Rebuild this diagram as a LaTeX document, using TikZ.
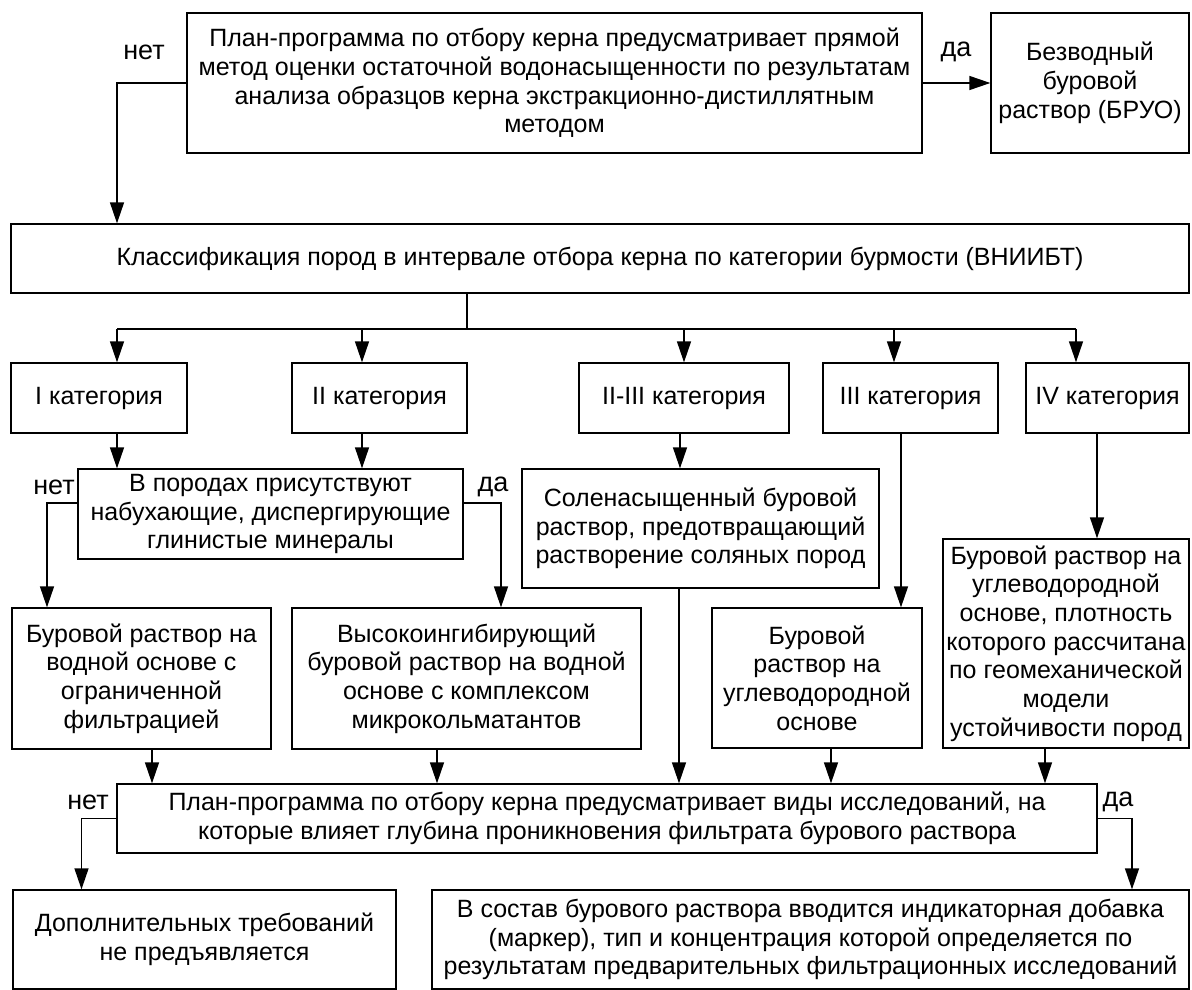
\documentclass[tikz,border=0pt]{standalone}
\usepackage{fontspec}
\setmainfont{Liberation Sans}
\usetikzlibrary{arrows.meta}
\begin{document}
\begin{tikzpicture}[x=1pt,y=-1pt,
  box/.style={draw, line width=1.3pt, inner sep=0pt, align=center, font=\fontsize{25}{28.7}\selectfont},
  lbl/.style={font=\fontsize{27}{30}\selectfont, inner sep=0pt},
  arr/.style={line width=1.3pt, -{Triangle[length=21pt,width=14pt]}},
  ln/.style={line width=1.3pt}]
\useasboundingbox (0,0) rectangle (1192,990);
% helper x/y coordinates
\coordinate (xA) at (117,0);
\coordinate (xB) at (467,0);
\coordinate (xII) at (362,0);
\coordinate (xIIIa) at (684,0);
\coordinate (xIIIb) at (680,0);
\coordinate (xIIIc) at (894,0);
\coordinate (xIIId) at (901,0);
\coordinate (xIVa) at (1076,0);
\coordinate (xIVb) at (1097,0);
\coordinate (br) at (0,329);
\coordinate (yc) at (0,503);
\coordinate (xN2) at (47,0);
\coordinate (xD2) at (501,0);
\coordinate (xW) at (152,0);
\coordinate (xIn) at (437,0);
\coordinate (xS) at (679,0);
\coordinate (xH) at (831,0);
\coordinate (xG) at (1045,0);
\coordinate (xN3) at (81.5,0);
\coordinate (xD3) at (1132,0);

% boxes
\node[box, minimum width=735pt, minimum height=140pt] (top) at (554.5,83)
  {План-программа по отбору керна предусматривает прямой\\метод оценки остаточной водонасыщенности по результатам\\анализа образцов керна экстракционно-дистиллятным\\методом};
\node[box, minimum width=198pt, minimum height=140pt] (bruo) at (1090,83)
  {Безводный\\буровой\\раствор (БРУО)};
\node[box, minimum width=1178pt, minimum height=69pt] (class) at (600,258.5)
  {Классификация пород в интервале отбора керна по категории бурмости (ВНИИБТ)};
\node[box, minimum width=176pt, minimum height=70pt] (catI) at (99,398) {I категория};
\node[box, minimum width=175pt, minimum height=70pt] (catII) at (379.5,398) {II категория};
\node[box, minimum width=210pt, minimum height=70pt] (catIIIa) at (684,398) {II-III категория};
\node[box, minimum width=175pt, minimum height=70pt] (catIII) at (910.5,398) {III категория};
\node[box, minimum width=163pt, minimum height=70pt] (catIV) at (1107.5,398) {IV категория};
\node[box, minimum width=385pt, minimum height=90pt] (clay) at (270.5,514)
  {В породах присутствуют\\набухающие, диспергирующие\\глинистые минералы};
\node[box, minimum width=357pt, minimum height=119pt] (salt) at (700.5,528.5)
  {Соленасыщенный буровой\\раствор, предотвращающий\\растворение соляных пород};
\node[box, minimum width=259pt, minimum height=141pt] (water) at (141.5,678.5)
  {Буровой раствор на\\водной основе с\\ограниченной\\фильтрацией};
\node[box, minimum width=349pt, minimum height=141pt] (inhib) at (466.5,678.5)
  {Высокоингибирующий\\буровой раствор на водной\\основе с комплексом\\микрокольматантов};
\node[box, minimum width=210pt, minimum height=140pt] (hydro) at (817,678)
  {Буровой\\раствор на\\углеводородной\\основе};
\node[box, minimum width=246pt, minimum height=209pt] (geo) at (1066,643.5)
  {Буровой раствор на\\углеводородной\\основе, плотность\\которого рассчитана\\по геомеханической\\модели\\устойчивости пород};
\node[box, minimum width=980pt, minimum height=69pt] (plan2) at (607,818.5)
  {План-программа по отбору керна предусматривает виды исследований, на\\которые влияет глубина проникновения фильтрата бурового раствора};
\node[box, minimum width=383pt, minimum height=99pt] (noreq) at (204.5,939.5)
  {Дополнительных требований\\не предъявляется};
\node[box, minimum width=757pt, minimum height=99pt] (marker) at (810.5,939.5)
  {В состав бурового раствора вводится индикаторная добавка\\(маркер), тип и концентрация которой определяется по\\результатам предварительных фильтрационных исследований};

% labels
\node[lbl] (n1) at (144,52) {нет};
\node[lbl] (d1) at (956,52) {да};
\node[lbl] (n2) at (54,487) {нет};
\node[lbl] (d2) at (493,487) {да};
\node[lbl] (n3) at (88,802) {нет};
\node[lbl] (d3) at (1118,802) {да};

% connectors
\draw[arr] (top.west) -| (class.north -| xA);
\draw[arr] (top.east) -- (bruo.west);
\draw[ln] (class.south -| xB) -- (xB |- br);
\draw[ln] (xA |- br) -- (xIVa |- br);
\draw[arr] (xA |- br) -- (catI.north -| xA);
\draw[arr] (xII |- br) -- (catII.north -| xII);
\draw[arr] (xIIIa |- br) -- (catIIIa.north -| xIIIa);
\draw[arr] (xIIIc |- br) -- (catIII.north -| xIIIc);
\draw[arr] (xIVa |- br) -- (catIV.north -| xIVa);
\draw[arr] (catI.south -| xA) -- (clay.north -| xA);
\draw[arr] (catII.south -| xII) -- (clay.north -| xII);
\draw[arr] (catIIIa.south -| xIIIb) -- (salt.north -| xIIIb);
\draw[arr] (catIII.south -| xIIId) -- (hydro.north -| xIIId);
\draw[arr] (catIV.south -| xIVb) -- (geo.north -| xIVb);
\draw[arr] (clay.west |- yc) -| (water.north -| xN2);
\draw[arr] (clay.east |- yc) -| (inhib.north -| xD2);
\draw[arr] (water.south -| xW) -- (plan2.north -| xW);
\draw[arr] (inhib.south -| xIn) -- (plan2.north -| xIn);
\draw[arr] (salt.south -| xS) -- (plan2.north -| xS);
\draw[arr] (hydro.south -| xH) -- (plan2.north -| xH);
\draw[arr] (geo.south -| xG) -- (plan2.north -| xG);
\draw[arr] (plan2.west) -| (noreq.north -| xN3);
\draw[arr] (plan2.east) -| (marker.north -| xD3);
\end{tikzpicture}
\end{document}
